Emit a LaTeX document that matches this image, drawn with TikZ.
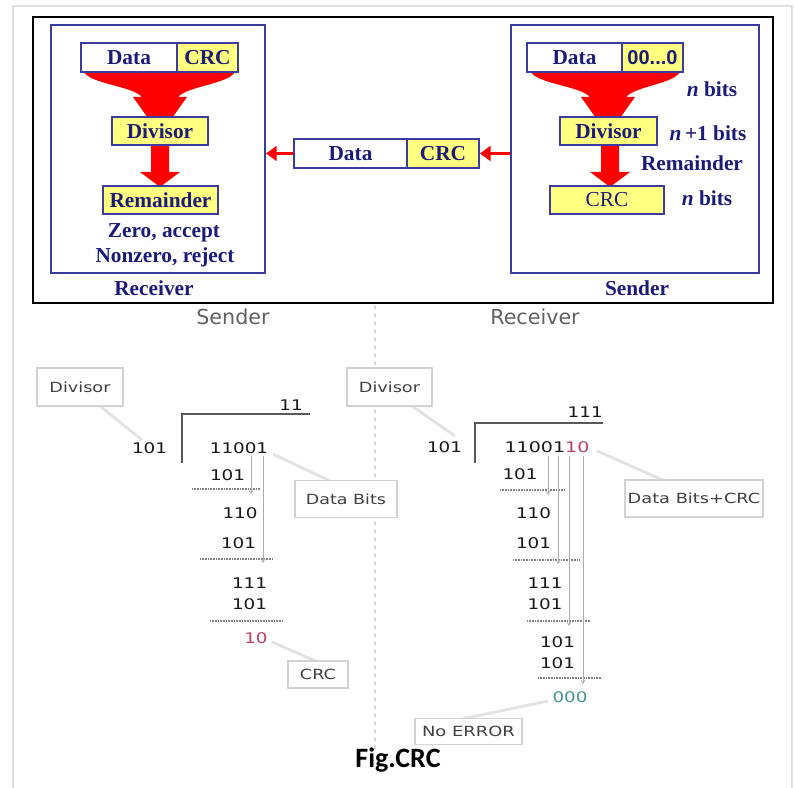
\documentclass[tikz,border=0pt]{standalone}
\usepackage{fontspec}
\usepackage{graphicx}
\setmainfont{Liberation Serif}
\newfontfamily\dvs{DejaVu Sans}
\newfontfamily\lsans{Liberation Sans}
\newfontfamily\carl{Carlito}
\usetikzlibrary{arrows.meta}
\definecolor{tblue}{RGB}{28,28,120}
\definecolor{bblue}{RGB}{60,60,160}
\definecolor{yel}{RGB}{255,255,128}
\definecolor{pinkc}{RGB}{185,65,100}
\definecolor{tealc}{RGB}{70,150,150}
\newcommand\sx[2]{\scalebox{#1}[1]{#2}}
\tikzset{
  frame/.style={draw=bblue, line width=1.5pt, inner sep=0pt},
  tbox/.style={draw=bblue, line width=1.3pt, inner sep=0pt, minimum height=21.5pt,
    font=\fontsize{16}{18}\selectfont\bfseries, text=tblue},
  ttext/.style={inner sep=0pt, font=\fontsize{16}{18}\selectfont\bfseries, text=tblue},
  redarrow/.style={red, line width=2.2pt, -{Triangle[length=8pt,width=11pt]}},
  dig/.style={inner sep=0pt, font=\dvs\fontsize{11}{13}\selectfont, text=black!90},
  lbox/.style={draw=gray!35, line width=1.2pt, fill=white, inner sep=0pt,
    font=\dvs\fontsize{10.5}{12}\selectfont, text=black!75},
  callout/.style={gray!22, line width=2.2pt},
  dotl/.style={gray, line width=0.8pt, dash pattern=on 0.6pt off 0.6pt},
  bring/.style={gray!65, line width=0.6pt, -{Straight Barb[length=2.5pt,width=3pt]}},
  bar/.style={black!65, line width=1.2pt},
  head/.style={inner sep=0pt, font=\dvs\fontsize{15.5}{17}\selectfont, text=black!62}
}
\begin{document}
\begin{tikzpicture}[x=0.75pt,y=-0.75pt]
\useasboundingbox (0,0) rectangle (794,788);
\fill[white] (0,0) rectangle (794,788);
\draw[gray!25, line width=1.5pt] (13,788) -- (13,6) -- (792,6) -- (792,788);
\draw[black, line width=1.2pt] (33,17) rectangle (773,303);

% blue frames
\node[frame, minimum width=160.5pt, minimum height=186pt] (recvbox) at (158,149) {};
\node[frame, minimum width=186pt, minimum height=186pt] (sendbox) at (635,149) {};

% funnels
\fill[red] (84,72) -- (235,72) .. controls (228,84) and (188,86) .. (178,97) -- (187,97) -- (160,135) -- (133,97) -- (142,97) .. controls (132,86) and (91,84) .. (84,72) -- cycle;
\fill[red] (531,72) -- (680,72) .. controls (673,84) and (636,86) .. (626,97) -- (635,97) -- (608,135) -- (581,97) -- (590,97) .. controls (580,86) and (538,84) .. (531,72) -- cycle;
% thick arrows
\fill[red] (151,145) -- (169,145) -- (169,172) -- (180,172) -- (160,187) -- (140,172) -- (151,172) -- cycle;
\fill[red] (601,145) -- (619,145) -- (619,172) -- (630,172) -- (610,187) -- (590,172) -- (601,172) -- cycle;

% receiver
\node[tbox, fill=white, minimum width=72pt, minimum height=21.75pt] (rdata) at (129,57.5) {Data};
\node[tbox, fill=yel, minimum width=45.75pt, minimum height=21.75pt] (rcrc) at (207.5,57.5) {CRC};
\node[tbox, fill=yel, minimum width=72pt] (rdiv) at (160,131) {Divisor};
\node[tbox, fill=yel, minimum width=86.25pt] (rrem) at (160.5,200) {Remainder};
\node[ttext] (zero) at (164,233) {Zero, accept};
\node[ttext] (nonzero) at (165,257) {Nonzero, reject};
\node[ttext] (rlabel) at (154,288) {Receiver};

% sender
\node[tbox, fill=white, minimum width=71.25pt, minimum height=21.75pt] (sdata) at (574.5,57.5) {Data};
\node[tbox, fill=yel, minimum width=45.75pt, minimum height=21.75pt, font=\lsans\fontsize{15}{17}\selectfont\bfseries] (szero) at (652.5,57.5) {00...0};
\node[tbox, fill=yel, minimum width=72.75pt] (sdiv) at (608.5,131) {Divisor};
\node[tbox, fill=yel, minimum width=85.5pt, font=\fontsize{16}{18}\selectfont] (scrc) at (607,200) {CRC};
\node[ttext] (nb1) at (712,89) {\textit{n} bits};
\node[ttext] (nb2) at (708,133) {\textit{n}\,+1 bits};
\node[ttext] (srem) at (692,163) {Remainder};
\node[ttext] (nb3) at (707,198) {\textit{n} bits};
\node[ttext] (slabel) at (637,288) {Sender};

% middle
\node[tbox, fill=white, minimum width=84.75pt, minimum height=21.75pt] (mdata) at (350.5,153.5) {Data};
\node[tbox, fill=yel, minimum width=54pt, minimum height=21.75pt] (mcrc) at (443,153.5) {CRC};
\draw[redarrow] (sendbox.west |- mcrc.east) -- (mcrc.east);
\draw[redarrow] (mdata.west) -- (recvbox.east |- mdata.west);

% ---------- bottom ----------
\draw[gray!30, line width=1pt, dashed] (375,305) -- (375,750);
\node[head] (hs) at (233,317) {Sender};
\node[head] (hr) at (535,317) {Receiver};

% callout lines
\draw[callout] (100,406) -- (142,440);
\draw[callout] (273,454) -- (330,481);
\draw[callout] (412,406) -- (455,436);
\draw[callout] (597,451) -- (665,481);
\draw[callout] (272,642) -- (318,662);
\draw[callout] (548,701) -- (462,719);

% label boxes
\node[lbox, minimum width=64.5pt, minimum height=28.5pt] (ldivl) at (80,387) {\sx{1.26}{Divisor}};
\node[lbox, minimum width=63.75pt, minimum height=28.5pt] (rdivl) at (389.5,387) {\sx{1.26}{Divisor}};
\node[lbox, minimum width=76.5pt, minimum height=27.75pt] (dbits) at (346,499) {\sx{1.25}{Data Bits}};
\node[lbox, minimum width=103.5pt, minimum height=27.75pt] (dbcrc) at (694,498.5) {\sx{1.27}{Data Bits+CRC}};
\node[lbox, minimum width=45pt, minimum height=20pt] (crcl) at (318,674.5) {\sx{1.26}{CRC}};
\node[lbox, minimum width=80.25pt, minimum height=19.5pt] (noerr) at (468.5,731.5) {\sx{1.28}{No ERROR}};

% sender division
\draw[bar] (310,414) -- (182,414) -- (182,463);
\node[dig, anchor=east] (sq) at (303,405) {\sx{1.25}{11}};
\node[dig] (sd) at (149.5,448) {\sx{1.25}{101}};
\node[dig] (sn) at (239,448) {\sx{1.25}{11001}};
\node[dig] (s1) at (227.5,475) {\sx{1.25}{101}};
\node[dig] (s2) at (240,513) {\sx{1.25}{110}};
\node[dig] (s3) at (238.5,543) {\sx{1.25}{101}};
\node[dig] (s4) at (249.5,583) {\sx{1.25}{111}};
\node[dig] (s5) at (249.5,604) {\sx{1.25}{101}};
\node[dig, text=pinkc] (sr) at (256,638) {\sx{1.25}{10}};
\draw[dotl] (192,489) -- (260,489);
\draw[dotl] (200,559) -- (273,559);
\draw[dotl] (210,621) -- (283,621);
\draw[bring] (251,456) -- (251,494);
\draw[bring] (263,456) -- (263,563);

% receiver division
\draw[bar] (603,423) -- (475,423) -- (475,463);
\node[dig, anchor=east] (rq) at (603,412) {\sx{1.25}{111}};
\node[dig] (rd) at (444.5,447) {\sx{1.25}{101}};
\node[dig] (rn) at (547,447) {\sx{1.3}{11001\textcolor{pinkc}{10}}};
\node[dig] (r1) at (520,474) {\sx{1.25}{101}};
\node[dig] (r2) at (533.5,513) {\sx{1.25}{110}};
\node[dig] (r3) at (533.5,543) {\sx{1.25}{101}};
\node[dig] (r4) at (545,583) {\sx{1.25}{111}};
\node[dig] (r5) at (545,604) {\sx{1.25}{101}};
\node[dig] (r6) at (557.5,642) {\sx{1.25}{101}};
\node[dig] (r7) at (557.5,663) {\sx{1.25}{101}};
\node[dig, text=tealc] (rr) at (570,697) {\sx{1.25}{000}};
\draw[dotl] (500,490) -- (565,490);
\draw[dotl] (513,560) -- (579,560);
\draw[dotl] (527,621) -- (591,621);
\draw[dotl] (538,678) -- (602,678);
\draw[bring] (548,456) -- (548,495);
\draw[bring] (558,456) -- (558,564);
\draw[bring] (569,456) -- (569,626);
\draw[bring] (583,456) -- (583,684);

\node[inner sep=0pt, font=\carl\fontsize{21}{24}\selectfont\bfseries] (fig) at (398,760) {Fig.CRC};
\end{tikzpicture}
\end{document}
